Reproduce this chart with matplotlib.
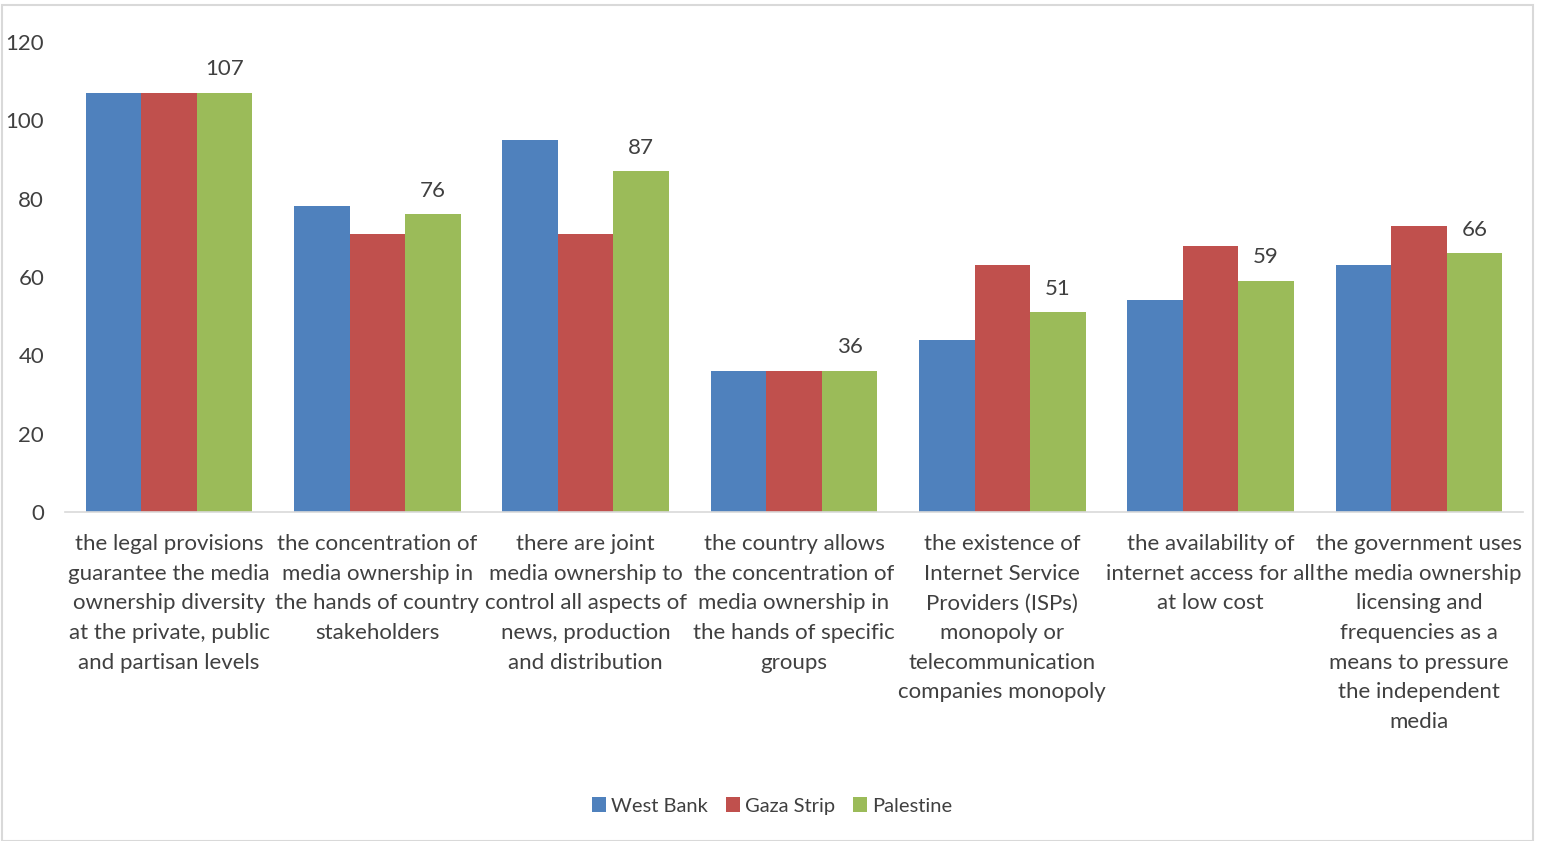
import numpy as np
import matplotlib.pyplot as plt
from matplotlib.patches import Rectangle

categories = [
    "the legal provisions\nguarantee the media\nownership diversity\nat the private, public\nand partisan levels",
    "the concentration of\nmedia ownership in\nthe hands of country\nstakeholders",
    "there are joint\nmedia ownership to\ncontrol all aspects of\nnews, production\nand distribution",
    "the country allows\nthe concentration of\nmedia ownership in\nthe hands of specific\ngroups",
    "the existence of\nInternet Service\nProviders (ISPs)\nmonopoly or\ntelecommunication\ncompanies monopoly",
    "the availability of\ninternet access for all\nat low cost",
    "the government uses\nthe media ownership\nlicensing and\nfrequencies as a\nmeans to pressure\nthe independent\nmedia",
]
west_bank = [107, 78, 95, 36, 44, 54, 63]
gaza_strip = [107, 71, 71, 36, 63, 68, 73]
palestine = [107, 76, 87, 36, 51, 59, 66]

series_names = ["West Bank", "Gaza Strip", "Palestine"]
colors = ["#4F81BD", "#C0504D", "#9BBB59"]

plt.rcParams["font.family"] = ["Lato", "DejaVu Sans"]
text_color = "#404040"

fig = plt.figure(figsize=(15.42, 8.41), dpi=100)
ax = fig.add_axes([65 / 1542, 1 - 512 / 841, 1458 / 1542, 470 / 841])

x = np.arange(len(categories))
w = 0.8 / 3
for i, (vals, name, c) in enumerate(zip([west_bank, gaza_strip, palestine], series_names, colors)):
    ax.bar(x + (i - 1) * w, vals, width=w, color=c, label=name)

for xi, v in zip(x, palestine):
    ax.text(xi + w, v + 3.5, str(v), ha="center", va="bottom", fontsize=16, color=text_color)

ax.set_xlim(-0.5, len(categories) - 0.5)
ax.set_ylim(0, 120)
ax.set_yticks(range(0, 121, 20))
ax.set_xticks(x)
ax.set_xticklabels(categories, fontsize=16, color=text_color, linespacing=1.6)
ax.tick_params(axis="y", length=0, labelsize=16, labelcolor=text_color, pad=15)
ax.tick_params(axis="x", length=0, pad=16)
for s in ["top", "right", "left"]:
    ax.spines[s].set_visible(False)
ax.spines["bottom"].set_color("#D9D9D9")
ax.spines["bottom"].set_linewidth(1.2)

leg = fig.legend(loc="center", bbox_to_anchor=(772 / 1542, 1 - 806 / 841), ncol=3, frameon=False,
                 fontsize=14.5, handlelength=0.7, handleheight=0.7, handletextpad=0.25, columnspacing=0.9)
for t in leg.get_texts():
    t.set_color(text_color)

# outer chart border
fig.patches.append(Rectangle((2 / 1542, 0), 1531 / 1542, 1 - 5 / 841, transform=fig.transFigure,
                             fill=False, edgecolor="#D9D9D9", linewidth=1.5))

fig.savefig("out.png", dpi=100, facecolor="white")
